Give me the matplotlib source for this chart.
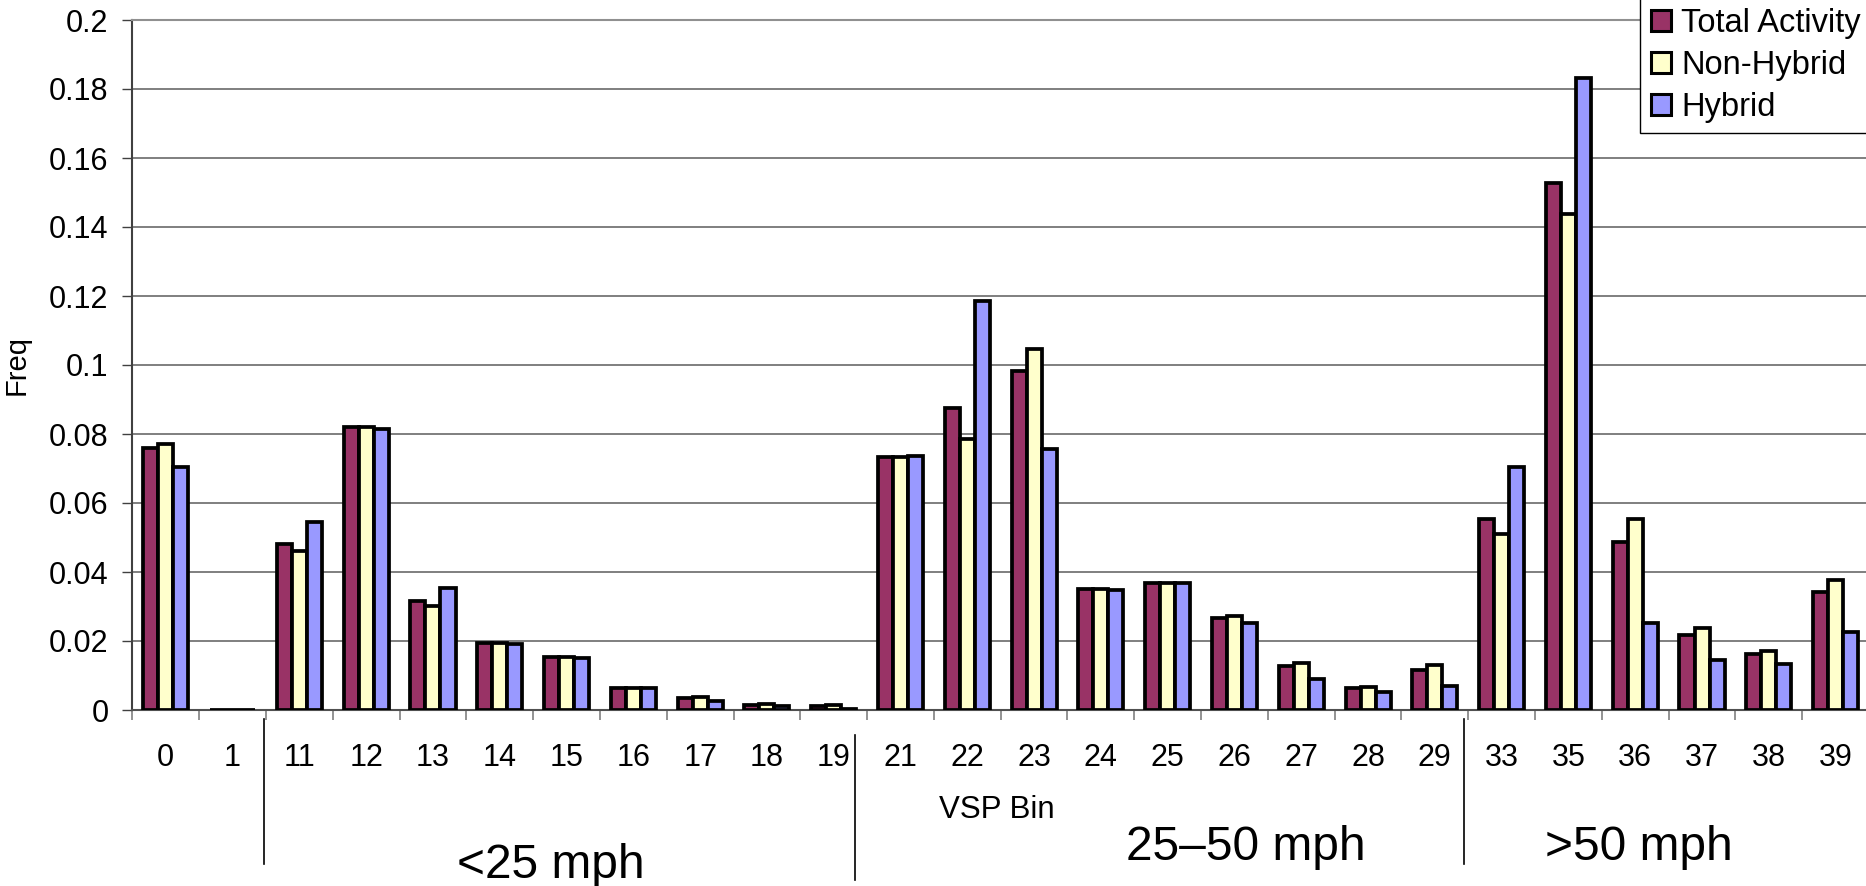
import matplotlib
matplotlib.use("Agg")
import matplotlib.pyplot as plt
import numpy as np
from matplotlib.patches import Patch

plt.rcParams['font.family'] = ['Liberation Sans', 'DejaVu Sans']

# ---- data ----
bins = ["0", "1", "11", "12", "13", "14", "15", "16", "17", "18", "19",
        "21", "22", "23", "24", "25", "26", "27", "28", "29",
        "33", "35", "36", "37", "38", "39"]
total_activity = [0.0758, 0.0, 0.0480, 0.0820, 0.0315, 0.0193, 0.0153, 0.0064, 0.0036, 0.0015, 0.0012,
                  0.0733, 0.0875, 0.0983, 0.0351, 0.0368, 0.0268, 0.0127, 0.0064, 0.0116,
                  0.0555, 0.1528, 0.0486, 0.0217, 0.0162, 0.0342]
non_hybrid = [0.0771, 0.0, 0.0461, 0.0821, 0.0302, 0.0193, 0.0153, 0.0064, 0.0039, 0.0017, 0.0014,
              0.0732, 0.0786, 0.1047, 0.0352, 0.0368, 0.0273, 0.0136, 0.0068, 0.0130,
              0.0511, 0.1437, 0.0554, 0.0239, 0.0171, 0.0376]
hybrid = [0.0705, 0.0, 0.0545, 0.0815, 0.0355, 0.0192, 0.0152, 0.0063, 0.0026, 0.0012, 0.0004,
          0.0735, 0.1186, 0.0757, 0.0348, 0.0369, 0.0251, 0.0090, 0.0051, 0.0070,
          0.0703, 0.1831, 0.0253, 0.0146, 0.0133, 0.0225]
series_names = ["Total Activity", "Non-Hybrid", "Hybrid"]
series_colors = ["#993366", "#FFFFCC", "#9999FF"]
y_ticks = [0, 0.02, 0.04, 0.06, 0.08, 0.1, 0.12, 0.14, 0.16, 0.18, 0.2]
group_labels = ["<25 mph", "25\u201350 mph", ">50 mph"]

# ---- figure ----
W, H = 1866, 886
fig = plt.figure(figsize=(W / 100, H / 100), dpi=100)
ax = fig.add_axes([132.4 / W, 1 - 710 / H, (1869 - 132.4) / W, (710 - 20) / H])

x = np.arange(len(bins))
bw = 0.225
for i, (vals, name, col) in enumerate(zip([total_activity, non_hybrid, hybrid], series_names, series_colors)):
    ax.bar(x + (i - 1) * bw, vals, width=bw, color=col, edgecolor='black',
           linewidth=2.7, label=name, zorder=3)

ax.set_xlim(-0.5, len(bins) - 0.5)
ax.set_ylim(0, 0.2)

ax.set_yticks(y_ticks)
ax.set_yticklabels([f"{v:g}" for v in y_ticks], fontsize=22)
ax.tick_params(axis='y', direction='out', length=7.2, width=1.0, color='#404040', pad=10)

ax.set_xticks(x)
ax.set_xticklabels(bins, fontsize=22)
ax.tick_params(axis='x', which='major', length=0, pad=24)
ax.set_xticks(np.arange(len(bins) + 1) - 0.5, minor=True)
ax.tick_params(axis='x', which='minor', direction='out', length=7.2, width=1.2, color='#808080')

ax.yaxis.grid(True, color='#6a6a6a', linewidth=1.2, zorder=0)
ax.set_axisbelow(True)

ax.spines['right'].set_visible(False)
ax.spines['top'].set_color('#909090')
ax.spines['top'].set_linewidth(1.5)
ax.spines['left'].set_color('#404040')
ax.spines['left'].set_linewidth(1.5)
ax.spines['bottom'].set_color('#505050')
ax.spines['bottom'].set_linewidth(1.5)

# axis labels
fig.text(17 / W, 1 - 365 / H, "Freq", rotation=90, fontsize=21, ha='center', va='center')
fig.text(997 / W, 1 - 810 / H, "VSP Bin", fontsize=22.5, ha='center', va='center')

# group labels
fig.text(551 / W, 1 - 866 / H, group_labels[0], fontsize=34.5, ha='center', va='center')
fig.text(1246 / W, 1 - 847 / H, group_labels[1], fontsize=34.5, ha='center', va='center')
fig.text(1639 / W, 1 - 847 / H, group_labels[2], fontsize=34.5, ha='center', va='center')

# dividers
for xp, y0, y1 in [(264, 719, 864), (855, 735, 880), (1464, 719, 864)]:
    fig.add_artist(plt.Line2D([xp / W, xp / W], [1 - y0 / H, 1 - y1 / H],
                              transform=fig.transFigure, color='black', linewidth=1.2))

# legend
handles = [Patch(facecolor=c, edgecolor='black', linewidth=2.2) for c in series_colors]
leg = fig.legend(handles, series_names, loc='upper right', bbox_to_anchor=(1.003, 1.003),
                 fontsize=23.5, frameon=True, fancybox=False, borderaxespad=0,
                 handlelength=0.62, handleheight=0.62, handletextpad=0.3,
                 labelspacing=0.33, borderpad=0.33)
leg.get_frame().set_edgecolor('black')
leg.get_frame().set_linewidth(1.0)
leg.get_frame().set_alpha(1)

fig.savefig("out.png", dpi=100)
